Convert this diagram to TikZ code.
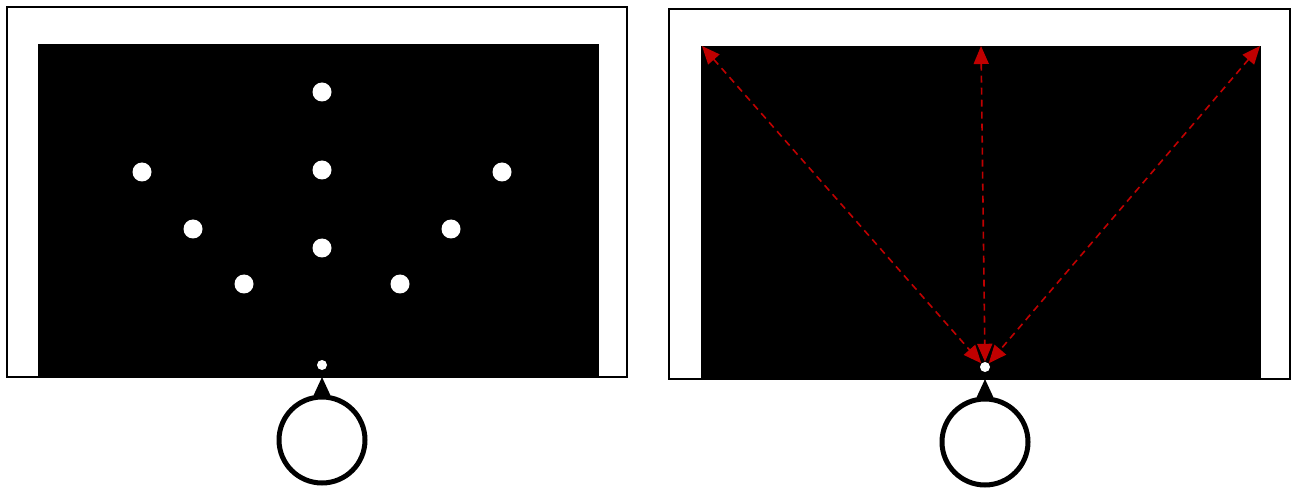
\documentclass[tikz,border=0pt]{standalone}
\usetikzlibrary{arrows.meta}
\definecolor{arrred}{RGB}{192,0,0}
\begin{document}
\begin{tikzpicture}[x=1pt,y=-1pt,
  frame/.style={draw=black,line width=2pt},
  field/.style={fill=black},
  spot/.style={circle,fill=white,inner sep=0pt,minimum size=19pt},
  tinyspot/.style={circle,fill=white,inner sep=0pt,minimum size=10pt},
  sensor/.style={circle,draw=black,line width=5pt,fill=white,inner sep=0pt,minimum size=86pt},
  pointer/.style={line width=2pt,-{Triangle[length=18pt,width=16pt]}},
  ray/.style={draw=arrred,line width=1.6pt,dash pattern=on 7pt off 5pt,{Triangle[length=18pt,width=15pt]}-{Triangle[length=18pt,width=15pt]}}]
\useasboundingbox (0,0) rectangle (1298,494);
% left panel
\draw[frame] (7,7) rectangle (627,377);
\fill[field] (38,44) rectangle (599,377);
\node[spot] (a1) at (322,92) {};
\node[spot] (a2) at (322,170) {};
\node[spot] (a3) at (322,248) {};
\node[spot] (l1) at (142,172) {};
\node[spot] (l2) at (193,229) {};
\node[spot] (l3) at (244,284) {};
\node[spot] (r1) at (502,172) {};
\node[spot] (r2) at (451,229) {};
\node[spot] (r3) at (400,284) {};
\node[tinyspot] (ls) at (322,365) {};
\node[sensor] (lc) at (322,440) {};
\coordinate (ltip) at (322,377);
\draw[pointer] (lc.north) -- (ltip);
% right panel
\draw[frame] (669,9) rectangle (1290,379);
\fill[field] (701,46) rectangle (1261,379);
\node[tinyspot] (rs) at (985,367) {};
\node[sensor] (rc) at (985,442) {};
\coordinate (rtip) at (985,379);
\draw[pointer] (rc.north) -- (rtip);
\coordinate (c1) at (702,46);
\coordinate (c2) at (981,46);
\coordinate (c3) at (1260,46);
\draw[ray] (c1) -- (rs.north west);
\draw[ray] (c2) -- (rs.north);
\draw[ray] (c3) -- (rs.north east);
\end{tikzpicture}
\end{document}
